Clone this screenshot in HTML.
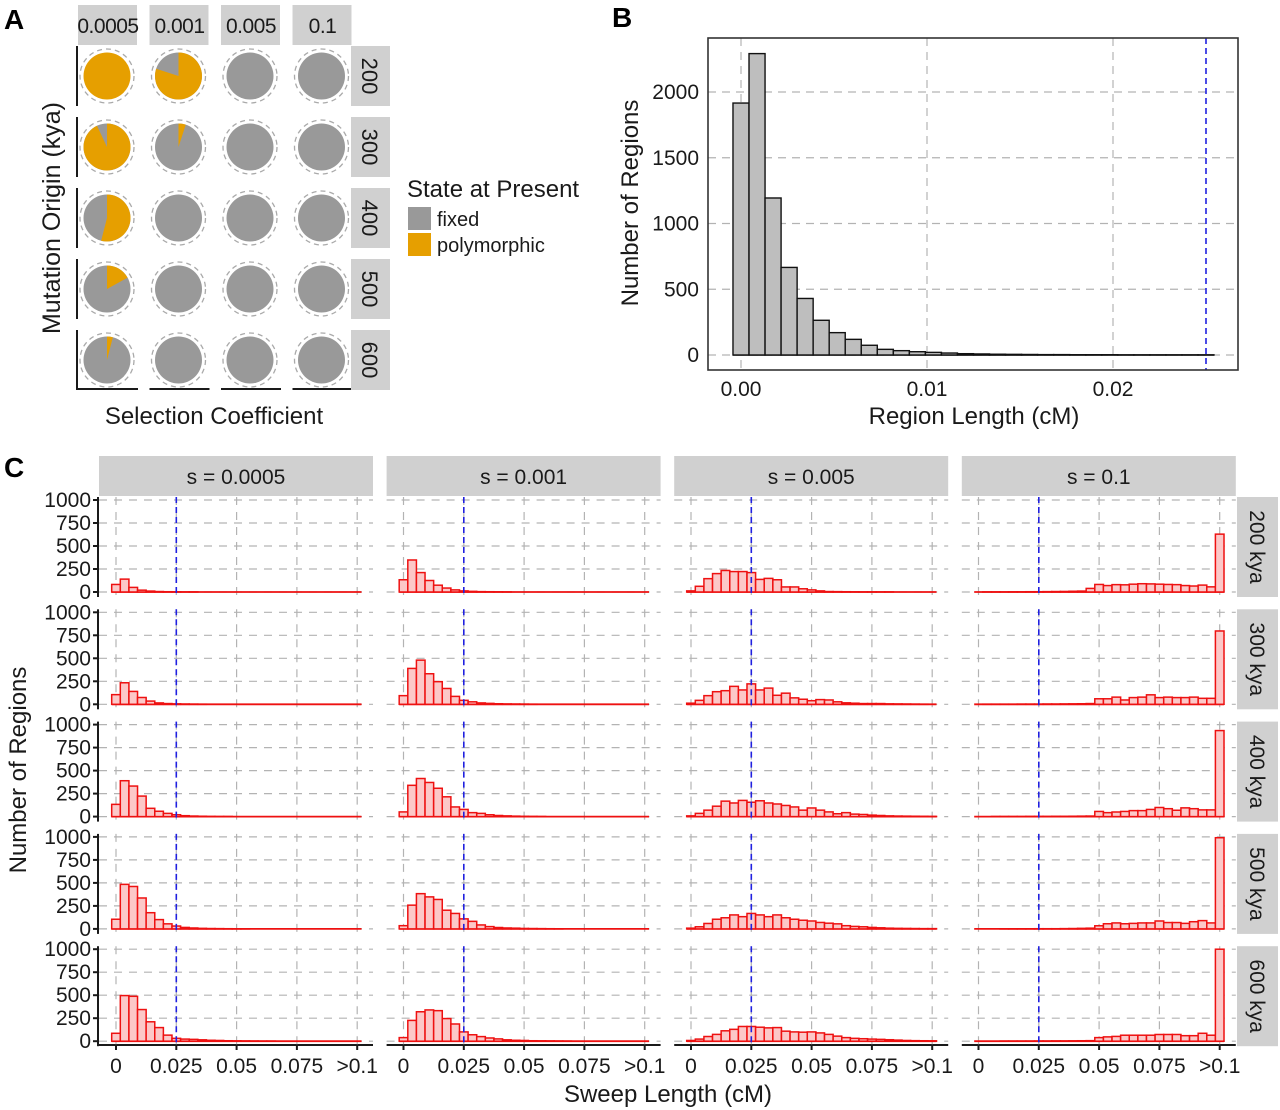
<!DOCTYPE html>
<html><head><meta charset="utf-8">
<style>
html,body{margin:0;padding:0;background:#fff;}
svg{display:block;font-family:"Liberation Sans",sans-serif;}
.t{fill:#1a1a1a;}
</style></head>
<body>
<svg id="fig" width="1280" height="1110" viewBox="0 0 1280 1110" xmlns="http://www.w3.org/2000/svg">
<rect width="1280" height="1110" fill="#fff"/>
<text x="4" y="29" font-size="28" font-weight="bold">A</text>
<text x="612" y="27" font-size="28" font-weight="bold">B</text>
<text x="4" y="477" font-size="28" font-weight="bold">C</text>
<g id="pa"></g>
<g id="pb"></g>
<g id="pc"></g>
</svg>
<script>
// ---------- Panel A data ----------
const selCoefs = ["0.0005","0.001","0.005","0.1"];
const originKya = ["200","300","400","500","600"];
const polyFrac_s0005 = [1.0, 0.93, 0.54, 0.17, 0.04];
const polyFrac_s001 = [0.80, 0.05, 0, 0, 0];
const polyFrac_s005 = [0, 0, 0, 0, 0];
const polyFrac_s01 = [0, 0, 0, 0, 0];
// ---------- Panel B data ----------
const regionCounts = [1916,2292,1194,666,430,264,170,119,74,43,33,25,20,15,10,8,6,5,4,3,3,2,2,2,1,1,1,1,1,1];
const regionTicksX = [0, 0.01, 0.02];
const regionTickLabelsX = ["0.00","0.01","0.02"];
const regionTicksY = [0,500,1000,1500,2000];
// ---------- Panel C data ----------
const sweepTicksX = [0,0.025,0.05,0.075,0.1];
const sweepTickLabelsX = ["0","0.025","0.05","0.075",">0.1"];
const sweepTicksY = [0,250,500,750,1000];
const sweepStrips = ["s = 0.0005","s = 0.001","s = 0.005","s = 0.1"];
const sweepRows = ["200 kya","300 kya","400 kya","500 kya","600 kya"];
const s0005_200 = [82,140,50,20,10,5,3,2,1,1,0,0,0,0,0,0,0,0,0,0,0,0,0,0,0,0,0,0,0];
const s0005_300 = [105,234,140,74,35,15,8,5,3,2,1,0,0,0,0,0,0,0,0,0,0,0,0,0,0,0,0,0,0];
const s0005_400 = [133,390,332,223,90,58,35,20,10,6,4,2,1,1,0,0,0,0,0,0,0,0,0,0,0,0,0,0,0];
const s0005_500 = [105,484,461,336,176,101,55,31,16,10,6,4,3,2,1,1,0,0,0,0,0,0,0,0,0,0,0,0,0];
const s0005_600 = [86,496,488,344,211,148,66,31,23,20,15,10,8,5,4,3,2,1,1,0,0,0,0,0,0,0,0,0,0];
const s001_200 = [133,348,211,125,74,43,23,12,7,4,3,2,1,0,0,0,0,0,0,0,0,0,0,0,0,0,0,0,0];
const s001_300 = [94,390,480,332,246,172,86,43,27,15,10,6,4,3,2,1,0,0,0,0,0,0,0,0,0,0,0,0,0];
const s001_400 = [51,340,414,371,308,215,105,78,43,35,20,12,8,5,3,2,1,0,0,0,0,0,0,0,0,0,0,0,0];
const s001_500 = [35,258,383,348,320,203,168,109,82,43,25,15,10,8,5,4,3,2,1,0,0,0,0,0,0,0,0,0,0];
const s001_600 = [39,226,320,340,332,246,187,101,70,50,35,25,15,10,8,5,4,3,2,1,0,0,0,0,0,0,0,0,0];
const s005_200 = [12,62,145,200,234,222,222,211,137,148,133,55,55,35,23,12,5,4,3,2,1,1,1,1,0,0,0,0,0];
const s005_300 = [12,43,94,137,148,195,156,222,156,176,98,121,70,55,39,51,47,27,16,12,8,8,8,5,4,3,2,1,0];
const s005_400 = [8,35,70,113,168,148,176,156,172,148,137,121,105,70,94,70,51,31,43,27,23,16,12,8,6,5,4,3,2];
const s005_500 = [8,23,59,105,121,152,133,168,152,133,152,121,105,94,86,70,62,55,35,27,23,16,12,8,6,5,4,3,3];
const s005_600 = [8,23,51,74,113,129,160,160,152,145,148,109,101,98,101,90,74,55,39,31,27,23,20,16,12,8,6,5,4];
const s01_200 = [0,1,1,1,2,2,3,3,4,5,6,8,10,39,82,70,80,78,85,90,88,85,82,80,70,65,75,56,629];
const s01_300 = [0,1,1,1,1,2,2,2,3,3,4,5,6,8,60,60,78,47,73,78,103,73,78,73,73,78,65,65,797];
const s01_400 = [0,0,1,1,1,1,2,2,2,3,3,4,5,6,56,43,50,56,65,65,78,99,86,69,95,86,73,73,935];
const s01_500 = [0,0,0,1,1,1,1,2,2,2,3,4,6,8,34,56,65,56,60,65,65,86,69,69,60,78,90,65,991];
const s01_600 = [0,0,0,1,1,1,1,2,2,3,3,4,5,6,39,47,52,65,65,65,65,73,73,73,60,60,86,65,1000];
const sweepThreshold = 0.025;

const NS = "http://www.w3.org/2000/svg";
function mk(parent, tag, attrs, txt){
  const e = document.createElementNS(NS, tag);
  for (const k in attrs) e.setAttribute(k, attrs[k]);
  if (txt !== undefined) e.textContent = txt;
  parent.appendChild(e);
  return e;
}
const GRID = "#b3b3b3";

// ================= Panel A =================
(function(){
  const g = document.getElementById('pa');
  const fracs = [polyFrac_s0005, polyFrac_s001, polyFrac_s005, polyFrac_s01];
  const colX = c => 107 + c*71.5;
  const rowY = r => 76 + r*71;
  selCoefs.forEach((s, c) => {
    const st = mk(g,'rect',{x:colX(c)-29,y:5,width:59,height:40,fill:'#d0d0d0'});
    
    
    const tx = mk(g,'text',{x:colX(c)+1,y:33,'font-size':21,'text-anchor':'middle',class:'t','letter-spacing':'-0.5'}, s);
    
    
    const ax = mk(g,'line',{x1:colX(c)-29,x2:colX(c)+31,y1:389,y2:389,stroke:'#1a1a1a','stroke-width':2});
    
    
  });
  originKya.forEach((o, r) => {
    const st = mk(g,'rect',{x:351,y:rowY(r)-30,width:39,height:60,fill:'#d0d0d0'});
    
    
    const tx = mk(g,'text',{x:0,y:0,'font-size':22,'text-anchor':'middle',class:'t',transform:`translate(362,${rowY(r)}) rotate(90)`}, o);
    
    
    const ax = mk(g,'line',{x1:77,x2:77,y1:rowY(r)-30,y2:rowY(r)+30,stroke:'#1a1a1a','stroke-width':2});
    
    
    selCoefs.forEach((s, c) => {
      const cx = colX(c), cy = rowY(r), R = 23.5;
      const f = fracs[c][r];
      const dc = mk(g,'circle',{cx:cx,cy:cy,r:27,fill:'none',stroke:'#aaaaaa','stroke-width':1.3,'stroke-dasharray':'5 4'});
      
      
      const base = mk(g,'circle',{cx:cx,cy:cy,r:R,fill:f>=1?'#E69F00':'#999999'});
      
      
      if (f > 0 && f < 1) {
        const a = f*2*Math.PI;
        const x2 = cx + R*Math.sin(a), y2 = cy - R*Math.cos(a);
        const p = mk(g,'path',{d:`M${cx},${cy} L${cx},${cy-R} A${R},${R} 0 ${f>0.5?1:0} 1 ${x2},${y2} Z`,fill:'#E69F00'});
        
        
      }
    });
  });
  const yt = mk(g,'text',{x:0,y:0,'font-size':25,'text-anchor':'middle',class:'t',transform:'translate(60,218) rotate(-90)'},'Mutation Origin (kya)');
  
  
  const xt = mk(g,'text',{x:214,y:424,'font-size':24,'text-anchor':'middle',class:'t'},'Selection Coefficient');
  
  
  const lt = mk(g,'text',{x:407,y:197,'font-size':24,class:'t'},'State at Present');
  
  
  const k1 = mk(g,'rect',{x:408,y:207,width:23,height:23,fill:'#999999'});
  
  
  const k2 = mk(g,'rect',{x:408,y:233,width:23,height:23,fill:'#E69F00'});
  
  
  const l1 = mk(g,'text',{x:437,y:226,'font-size':20,class:'t'},'fixed');
  
  
  const l2 = mk(g,'text',{x:437,y:252,'font-size':20,class:'t'},'polymorphic');
  
  
})();

// ================= Panel B =================
(function(){
  const g = document.getElementById('pb');
  const L=708,T=38,R=1238,B=370;
  const xs = v => 741 + v*18600;
  const ys = v => 355 - v*0.1315;
  const bw = 0.025/29;
  regionTicksY.forEach(v=>{
    const l = mk(g,'line',{x1:L,x2:R,y1:ys(v),y2:ys(v),stroke:GRID,'stroke-width':1.2,'stroke-dasharray':'8 6'});
    
    
    const t = mk(g,'text',{x:699,y:ys(v)+7,'font-size':21,'text-anchor':'end',class:'t'}, String(v));
    
    
  });
  regionTicksX.forEach((v,i)=>{
    const l = mk(g,'line',{x1:xs(v),x2:xs(v),y1:T,y2:B,stroke:GRID,'stroke-width':1.2,'stroke-dasharray':'8 6'});
    
    
    const t = mk(g,'text',{x:xs(v),y:396,'font-size':21,'text-anchor':'middle',class:'t'}, regionTickLabelsX[i]);
    
    
  });
  const base = mk(g,'line',{x1:xs(-0.5*bw),x2:xs((regionCounts.length-0.5)*bw),y1:ys(0),y2:ys(0),stroke:'#111','stroke-width':1.6});
  
  
  regionCounts.forEach((c,k)=>{
    const x0 = xs((k-0.5)*bw), x1 = xs((k+0.5)*bw);
    const b = mk(g,'rect',{x:x0,y:ys(c),width:x1-x0,height:Math.max(ys(0)-ys(c),0.01),fill:'#bebebe',stroke:'#111','stroke-width':1.4});
    
    
  });
  const bl = mk(g,'line',{x1:xs(0.025),x2:xs(0.025),y1:T,y2:B,stroke:'#2020e0','stroke-width':1.6,'stroke-dasharray':'6 4'});
  
  
  const fr = mk(g,'rect',{x:L,y:T,width:R-L,height:B-T,fill:'none',stroke:'#333','stroke-width':1.6});
  
  
  const yt = mk(g,'text',{x:0,y:0,'font-size':24,'text-anchor':'middle',class:'t',transform:'translate(638,203) rotate(-90)'},'Number of Regions');
  
  
  const xt = mk(g,'text',{x:974,y:424,'font-size':24,'text-anchor':'middle',class:'t'},'Region Length (cM)');
  
  
})();

// ================= Panel C =================
(function(){
  const g = document.getElementById('pc');
  const data = [
    [s0005_200,s0005_300,s0005_400,s0005_500,s0005_600],
    [s001_200,s001_300,s001_400,s001_500,s001_600],
    [s005_200,s005_300,s005_400,s005_500,s005_600],
    [s01_200,s01_300,s01_400,s01_500,s01_600]
  ];
  const colL = c => 99 + c*287.6;
  const colW = 274;
  const xs = (c,v) => 116 + c*287.5 + v*2412;
  const ys = (r,v) => 592 + r*112.3 - v*0.092;
  const bw = 0.1/28;
  sweepStrips.forEach((s,c)=>{
    const st = mk(g,'rect',{x:colL(c),y:456,width:colW,height:40,fill:'#d0d0d0'});
    
    
    const t = mk(g,'text',{x:colL(c)+colW/2,y:484,'font-size':21,'text-anchor':'middle',class:'t'}, s);
    
    
    const ax = mk(g,'line',{x1:colL(c),x2:colL(c)+colW,y1:1045,y2:1045,stroke:'#1a1a1a','stroke-width':2});
    
    
    sweepTicksX.forEach((v,i)=>{
      const tk = mk(g,'line',{x1:xs(c,v),x2:xs(c,v),y1:1045,y2:1050,stroke:'#1a1a1a','stroke-width':2});
      
      
      const tl = mk(g,'text',{x:xs(c,v),y:1073,'font-size':21,'text-anchor':'middle',class:'t'}, sweepTickLabelsX[i]);
      
      
    });
  });
  sweepRows.forEach((rl,r)=>{
    const top = 497 + r*112.3, bot = 597 + r*112.3;
    const st = mk(g,'rect',{x:1237,y:top,width:41,height:bot-top,fill:'#d0d0d0'});
    
    
    const t = mk(g,'text',{x:0,y:0,'font-size':21,'text-anchor':'middle',class:'t',transform:`translate(1250,${(top+bot)/2}) rotate(90)`}, rl);
    
    
    const ax = mk(g,'line',{x1:98,x2:98,y1:top,y2:bot,stroke:'#1a1a1a','stroke-width':2});
    
    
    sweepTicksY.forEach(v=>{
      const tk = mk(g,'line',{x1:93,x2:98,y1:ys(r,v),y2:ys(r,v),stroke:'#1a1a1a','stroke-width':2});
      
      
      const tl = mk(g,'text',{x:91,y:ys(r,v)+7,'font-size':21,'text-anchor':'end',class:'t'}, String(v));
      
      
    });
    for (let c=0;c<4;c++){
      sweepTicksY.forEach(v=>{
        const gl = mk(g,'line',{x1:colL(c),x2:colL(c)+colW,y1:ys(r,v),y2:ys(r,v),stroke:GRID,'stroke-width':1.2,'stroke-dasharray':'8 7'});
        
        
      });
      sweepTicksX.forEach(v=>{
        const gl = mk(g,'line',{x1:xs(c,v),x2:xs(c,v),y1:top,y2:bot,stroke:GRID,'stroke-width':1.2,'stroke-dasharray':'8 7'});
        
        
      });
      const vals = data[c][r];
      const bl0 = mk(g,'line',{x1:xs(c,-0.5*bw),x2:xs(c,(vals.length-0.5)*bw),y1:ys(r,0),y2:ys(r,0),stroke:'#ee1111','stroke-width':1.8});
      
      
      vals.forEach((val,k)=>{
        if (val <= 0) return;
        const x0 = xs(c,(k-0.5)*bw), x1 = xs(c,(k+0.5)*bw);
        const b = mk(g,'rect',{x:x0,y:ys(r,val),width:x1-x0,height:ys(r,0)-ys(r,val),fill:'#fcc8c8',stroke:'#ee1111','stroke-width':1.5});
        
        
      });
      const bl = mk(g,'line',{x1:xs(c,sweepThreshold),x2:xs(c,sweepThreshold),y1:top,y2:bot,stroke:'#2020e0','stroke-width':1.6,'stroke-dasharray':'6 4'});
      
      
    }
  });
  const yt = mk(g,'text',{x:0,y:0,'font-size':24,'text-anchor':'middle',class:'t',transform:'translate(26,770) rotate(-90)'},'Number of Regions');
  
  
  const xt = mk(g,'text',{x:668,y:1102,'font-size':24,'text-anchor':'middle',class:'t'},'Sweep Length (cM)');
  
  
})();
</script>
</body></html>
